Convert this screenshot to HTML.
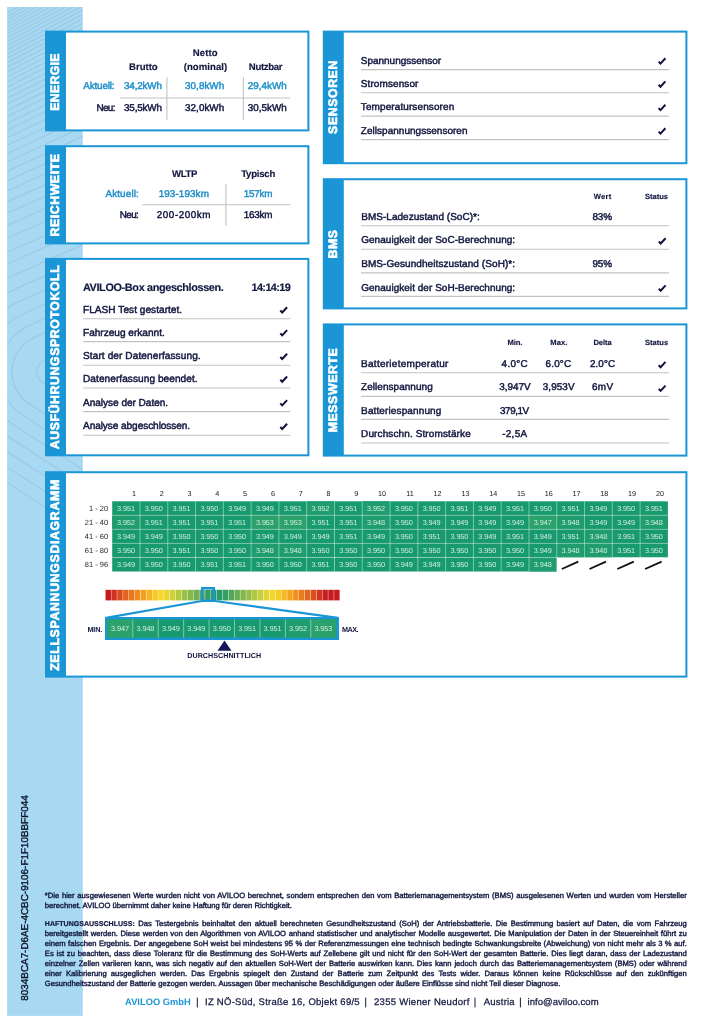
<!DOCTYPE html>
<html lang="de"><head><meta charset="utf-8"><title>AVILOO Batteriezertifikat</title>
<style>
html,body{margin:0;padding:0;background:#fff}
body{text-rendering:geometricPrecision;width:725px;height:1024px;position:relative;overflow:hidden;font-family:"Liberation Sans",sans-serif;color:#12173f}
#pg{position:absolute;left:0;top:0;width:725px;height:1024px;will-change:transform}
.r{position:absolute;display:block}
.t{position:absolute;white-space:nowrap;margin:0}
.rot{position:absolute;white-space:nowrap;color:#fff;font-weight:bold;-webkit-text-stroke:0.6px #fff;transform:translate(-50%,-50%) rotate(-90deg);transform-origin:50% 50%}
.f{position:absolute;left:44.8px;width:642px;font-size:7.65px;line-height:7.65px;color:#12173f;white-space:nowrap;-webkit-text-stroke:0.38px #12173f}
.f.j{white-space:normal;text-align:justify;text-align-last:justify}
.f b{font-weight:bold;-webkit-text-stroke:0.2px;font-size:7.05px}
</style></head>
<body>
<div id="pg">
<svg class="r" style="left:0;top:0" width="90" height="1024" viewBox="0 0 90 1024"><defs><clipPath id="sc"><rect x="7.15" y="7" width="75.6" height="1008.9"/></clipPath></defs><rect x="7.15" y="7" width="75.6" height="1008.9" fill="#a8d9f3"/><g clip-path="url(#sc)" fill="none" stroke="#7a94b8" stroke-opacity="0.21" stroke-width="1.3"><path d="M7 13.0 L84 -29.1"/><path d="M7 16.4 L84 -25.6"/><path d="M7 19.8 L84 -22.0"/><path d="M7 23.3 L84 -18.3"/><path d="M7 26.9 L84 -14.6"/><path d="M7 30.5 L84 -10.8"/><path d="M7 34.2 L84 -7.0"/><path d="M7 38.0 L84 -3.0"/><path d="M7 41.9 L84 1.0"/><path d="M7 45.8 L84 5.1"/><path d="M7 49.9 L84 9.4"/><path d="M7 54.1 L84 13.7"/><path d="M7 58.4 L84 18.2"/><path d="M7 62.8 L84 22.8"/><path d="M7 67.3 L84 27.6"/><path d="M7 72.1 L84 32.5"/><path d="M7 76.9 L84 37.6"/><path d="M7 82.0 L84 42.8"/><path d="M7 87.2 L84 48.3"/><path d="M7 92.6 L84 53.9"/><path d="M7 98.3 L84 59.8"/><path d="M7 104.2 L84 65.9"/><path d="M7 110.3 L84 72.3"/><path d="M7 116.7 L84 79.0"/><path d="M7 123.4 L84 86.0"/><path d="M7 130.4 L84 93.3"/><path d="M7 137.8 L84 101.0"/><path d="M7 145.5 L84 109.0"/><path d="M7 153.6 L84 117.5"/><path d="M7 162.2 L84 126.4"/><path d="M7 171.3 L84 135.8"/><path d="M7 180.9 L84 145.8"/><path d="M7 191.0 L84 156.4"/><path d="M7 201.8 L84 167.5"/><path d="M7 213.2 L84 179.0"/><path d="M7 225.5 L84 191.2"/><path d="M7 238.5 L84 204.2"/><path d="M7 252.5 L84 218.2"/><path d="M84 342.6 L44.7 360.1 A13 13 0 0 0 42.9 382.9 L84 409.6"/><path d="M84 315.3 L34.5 337.3 A38 38 0 0 0 29.3 403.9 L84 439.4"/><path d="M84 301.0 L29.3 325.4 A51 51 0 0 0 22.2 414.8 L84 454.9"/><path d="M84 286.8 L24.0 313.5 A64 64 0 0 0 15.1 425.7 L84 470.4"/><path d="M84 272.6 L18.7 301.7 A77 77 0 0 0 8.1 436.6 L84 485.9"/><path d="M84 258.3 L13.4 289.8 A90 90 0 0 0 1.0 447.5 L84 501.4"/><path d="M84 244.1 L8.1 277.9 A103 103 0 0 0 -6.1 458.4 L84 516.9"/><path d="M84 229.9 L2.8 266.0 A116 116 0 0 0 -13.2 469.3 L84 532.4"/></g></svg>
<div class="rot" style="left:26.0px;top:897.6px;font-size:9.9px;line-height:9.9px;color:#10142e;font-weight:normal;-webkit-text-stroke:0.4px #10142e">8034BCA7-D6AE-4CBC-9106-F1F10BBFF044</div>
<svg class="r" style="left:44px;top:29px" width="267" height="104" viewBox="44 29 267 104"><rect x="45.00" y="30.60" width="264.40" height="100.80" fill="#1a96d7"/><rect x="66.00" y="32.60" width="241.40" height="96.80" fill="#fff"/></svg>
<div class="rot" style="left:54.60px;top:81.85px;font-size:12.3px;line-height:12.3px;letter-spacing:0.3px">ENERGIE</div>
<div class="t " style="left:192.80px;top:49px;font-size:9.6px;line-height:9.6px;color:#12173f;font-weight:bold;letter-spacing:0.093px;-webkit-text-stroke:0.15px #12173f;">Netto</div>
<div class="t " style="left:183.70px;top:63px;font-size:9.6px;line-height:9.6px;color:#12173f;font-weight:bold;letter-spacing:0.051px;-webkit-text-stroke:0.15px #12173f;">(nominal)</div>
<div class="t " style="left:129.10px;top:63px;font-size:9.6px;line-height:9.6px;color:#12173f;font-weight:bold;letter-spacing:-0.038px;-webkit-text-stroke:0.15px #12173f;">Brutto</div>
<div class="t " style="left:248.80px;top:63px;font-size:9.6px;line-height:9.6px;color:#12173f;font-weight:bold;letter-spacing:-0.322px;-webkit-text-stroke:0.15px #12173f;">Nutzbar</div>
<div class="t " style="left:83.20px;top:82px;font-size:9.9px;line-height:9.9px;color:#2090c8;letter-spacing:-0.138px;-webkit-text-stroke:0.45px #2090c8;">Aktuell:</div>
<div class="t " style="left:124.00px;top:82px;font-size:9.9px;line-height:9.9px;color:#2090c8;letter-spacing:-0.161px;-webkit-text-stroke:0.45px #2090c8;">34,2kWh</div>
<div class="t " style="left:185.10px;top:82px;font-size:9.9px;line-height:9.9px;color:#2090c8;letter-spacing:0.022px;-webkit-text-stroke:0.45px #2090c8;">30,8kWh</div>
<div class="t " style="left:247.80px;top:82px;font-size:9.9px;line-height:9.9px;color:#2090c8;letter-spacing:0.006px;-webkit-text-stroke:0.45px #2090c8;">29,4kWh</div>
<div class="t " style="left:96.39px;top:104px;font-size:9.9px;line-height:9.9px;color:#12173f;letter-spacing:-0.600px;-webkit-text-stroke:0.45px #12173f;">Neu:</div>
<div class="t " style="left:124.00px;top:104px;font-size:9.9px;line-height:9.9px;color:#12173f;letter-spacing:-0.161px;-webkit-text-stroke:0.45px #12173f;">35,5kWh</div>
<div class="t " style="left:185.10px;top:104px;font-size:9.9px;line-height:9.9px;color:#12173f;letter-spacing:0.022px;-webkit-text-stroke:0.45px #12173f;">32,0kWh</div>
<div class="t " style="left:247.80px;top:104px;font-size:9.9px;line-height:9.9px;color:#12173f;letter-spacing:0.006px;-webkit-text-stroke:0.45px #12173f;">30,5kWh</div>
<svg class="r" style="left:44px;top:144px" width="267" height="102" viewBox="44 144 267 102"><rect x="45.00" y="145.20" width="264.40" height="99.20" fill="#1a96d7"/><rect x="66.00" y="147.20" width="241.40" height="95.20" fill="#fff"/></svg>
<div class="rot" style="left:54.60px;top:194.80px;font-size:12.3px;line-height:12.3px;letter-spacing:0.6px">REICHWEITE</div>
<div class="t " style="left:172.00px;top:170px;font-size:9.6px;line-height:9.6px;color:#12173f;font-weight:bold;letter-spacing:-0.326px;-webkit-text-stroke:0.15px #12173f;">WLTP</div>
<div class="t " style="left:241.20px;top:170px;font-size:9.6px;line-height:9.6px;color:#12173f;font-weight:bold;letter-spacing:-0.243px;-webkit-text-stroke:0.15px #12173f;">Typisch</div>
<div class="t " style="left:105.40px;top:190px;font-size:9.9px;line-height:9.9px;color:#2090c8;letter-spacing:0.148px;-webkit-text-stroke:0.45px #2090c8;">Aktuell:</div>
<div class="t " style="left:158.70px;top:190px;font-size:9.9px;line-height:9.9px;color:#2090c8;letter-spacing:0.097px;-webkit-text-stroke:0.45px #2090c8;">193-193km</div>
<div class="t " style="left:243.80px;top:190px;font-size:9.9px;line-height:9.9px;color:#2090c8;letter-spacing:-0.228px;-webkit-text-stroke:0.45px #2090c8;">157km</div>
<div class="t " style="left:119.70px;top:211px;font-size:9.9px;line-height:9.9px;color:#12173f;letter-spacing:-0.570px;-webkit-text-stroke:0.45px #12173f;">Neu:</div>
<div class="t " style="left:156.80px;top:211px;font-size:9.9px;line-height:9.9px;color:#12173f;letter-spacing:0.547px;-webkit-text-stroke:0.45px #12173f;">200-200km</div>
<div class="t " style="left:243.80px;top:211px;font-size:9.9px;line-height:9.9px;color:#12173f;letter-spacing:-0.228px;-webkit-text-stroke:0.45px #12173f;">163km</div>
<svg class="r" style="left:44px;top:256px" width="267" height="202" viewBox="44 256 267 202"><rect x="45.00" y="257.90" width="264.40" height="198.40" fill="#1a96d7"/><rect x="66.00" y="259.90" width="241.40" height="194.40" fill="#fff"/></svg>
<div class="rot" style="left:54.60px;top:357.10px;font-size:12.3px;line-height:12.3px;letter-spacing:0.6px">AUSFÜHRUNGSPROTOKOLL</div>
<div class="t " style="left:82.90px;top:283px;font-size:10.9px;line-height:10.9px;color:#12173f;font-weight:bold;letter-spacing:-0.371px;-webkit-text-stroke:0.15px #12173f;">AVILOO-Box angeschlossen.</div>
<div class="t " style="left:251.44px;top:283px;font-size:10.9px;line-height:10.9px;color:#12173f;font-weight:bold;letter-spacing:-0.600px;-webkit-text-stroke:0.15px #12173f;">14:14:19</div>
<div class="t " style="left:83.00px;top:306px;font-size:10.1px;line-height:10.1px;color:#12173f;letter-spacing:0.030px;-webkit-text-stroke:0.45px #12173f;">FLASH Test gestartet.</div>
<div class="t " style="left:83.00px;top:329px;font-size:10.1px;line-height:10.1px;color:#12173f;letter-spacing:-0.010px;-webkit-text-stroke:0.45px #12173f;">Fahrzeug erkannt.</div>
<div class="t " style="left:83.00px;top:352px;font-size:10.1px;line-height:10.1px;color:#12173f;letter-spacing:0.086px;-webkit-text-stroke:0.45px #12173f;">Start der Datenerfassung.</div>
<div class="t " style="left:83.00px;top:375px;font-size:10.1px;line-height:10.1px;color:#12173f;letter-spacing:0.058px;-webkit-text-stroke:0.45px #12173f;">Datenerfassung beendet.</div>
<div class="t " style="left:83.00px;top:399px;font-size:10.1px;line-height:10.1px;color:#12173f;letter-spacing:-0.041px;-webkit-text-stroke:0.45px #12173f;">Analyse der Daten.</div>
<div class="t " style="left:83.00px;top:422px;font-size:10.1px;line-height:10.1px;color:#12173f;letter-spacing:-0.082px;-webkit-text-stroke:0.45px #12173f;">Analyse abgeschlossen.</div>
<svg class="r" style="left:321px;top:29px" width="368" height="137" viewBox="321 29 368 137"><rect x="322.80" y="30.60" width="364.60" height="133.60" fill="#1a96d7"/><rect x="343.80" y="32.60" width="341.60" height="129.60" fill="#fff"/></svg>
<div class="rot" style="left:333.10px;top:97.40px;font-size:12.3px;line-height:12.3px;letter-spacing:0.6px">SENSOREN</div>
<div class="t " style="left:360.80px;top:57px;font-size:10.0px;line-height:10.0px;color:#12173f;letter-spacing:-0.022px;-webkit-text-stroke:0.45px #12173f;">Spannungssensor</div>
<div class="t " style="left:360.80px;top:80px;font-size:10.0px;line-height:10.0px;color:#12173f;letter-spacing:0.092px;-webkit-text-stroke:0.45px #12173f;">Stromsensor</div>
<div class="t " style="left:360.80px;top:103px;font-size:10.0px;line-height:10.0px;color:#12173f;letter-spacing:0.100px;-webkit-text-stroke:0.45px #12173f;">Temperatursensoren</div>
<div class="t " style="left:360.80px;top:127px;font-size:10.0px;line-height:10.0px;color:#12173f;letter-spacing:0.026px;-webkit-text-stroke:0.45px #12173f;">Zellspannungssensoren</div>
<svg class="r" style="left:321px;top:177px" width="368" height="134" viewBox="321 177 368 134"><rect x="322.80" y="178.20" width="364.60" height="131.20" fill="#1a96d7"/><rect x="343.80" y="180.20" width="341.60" height="127.20" fill="#fff"/></svg>
<div class="rot" style="left:333.10px;top:243.80px;font-size:12.3px;line-height:12.3px;letter-spacing:0.6px">BMS</div>
<div class="t " style="left:593.80px;top:193px;font-size:7.6px;line-height:7.6px;color:#12173f;font-weight:bold;letter-spacing:0.216px;-webkit-text-stroke:0.15px #12173f;">Wert</div>
<div class="t " style="left:645.00px;top:193px;font-size:7.6px;line-height:7.6px;color:#12173f;font-weight:bold;letter-spacing:-0.025px;-webkit-text-stroke:0.15px #12173f;">Status</div>
<div class="t " style="left:361.20px;top:213px;font-size:10.0px;line-height:10.0px;color:#12173f;letter-spacing:0.035px;-webkit-text-stroke:0.45px #12173f;">BMS-Ladezustand (SoC)*:</div>
<div class="t " style="left:592.40px;top:213px;font-size:9.9px;line-height:9.9px;color:#12173f;letter-spacing:-0.057px;-webkit-text-stroke:0.45px #12173f;">83%</div>
<div class="t " style="left:361.20px;top:236px;font-size:10.0px;line-height:10.0px;color:#12173f;letter-spacing:0.035px;-webkit-text-stroke:0.45px #12173f;">Genauigkeit der SoC-Berechnung:</div>
<div class="t " style="left:361.20px;top:260px;font-size:10.0px;line-height:10.0px;color:#12173f;letter-spacing:0.075px;-webkit-text-stroke:0.45px #12173f;">BMS-Gesundheitszustand (SoH)*:</div>
<div class="t " style="left:592.40px;top:260px;font-size:9.9px;line-height:9.9px;color:#12173f;letter-spacing:-0.057px;-webkit-text-stroke:0.45px #12173f;">95%</div>
<div class="t " style="left:361.20px;top:284px;font-size:10.0px;line-height:10.0px;color:#12173f;letter-spacing:0.035px;-webkit-text-stroke:0.45px #12173f;">Genauigkeit der SoH-Berechnung:</div>
<svg class="r" style="left:321px;top:322px" width="368" height="136" viewBox="321 322 368 136"><rect x="322.80" y="323.40" width="364.60" height="133.20" fill="#1a96d7"/><rect x="343.80" y="325.40" width="341.60" height="129.20" fill="#fff"/></svg>
<div class="rot" style="left:333.10px;top:390.00px;font-size:12.3px;line-height:12.3px;letter-spacing:0.6px">MESSWERTE</div>
<div class="t " style="left:507.40px;top:339px;font-size:7.6px;line-height:7.6px;color:#12173f;font-weight:bold;letter-spacing:-0.065px;-webkit-text-stroke:0.15px #12173f;">Min.</div>
<div class="t " style="left:550.30px;top:339px;font-size:7.6px;line-height:7.6px;color:#12173f;font-weight:bold;letter-spacing:0.035px;-webkit-text-stroke:0.15px #12173f;">Max.</div>
<div class="t " style="left:593.40px;top:339px;font-size:7.6px;line-height:7.6px;color:#12173f;font-weight:bold;letter-spacing:-0.071px;-webkit-text-stroke:0.15px #12173f;">Delta</div>
<div class="t " style="left:645.00px;top:339px;font-size:7.6px;line-height:7.6px;color:#12173f;font-weight:bold;letter-spacing:-0.005px;-webkit-text-stroke:0.15px #12173f;">Status</div>
<div class="t " style="left:361.10px;top:360px;font-size:10.0px;line-height:10.0px;color:#12173f;letter-spacing:0.264px;-webkit-text-stroke:0.45px #12173f;">Batterietemperatur</div>
<div class="t " style="left:501.60px;top:360px;font-size:9.9px;line-height:9.9px;color:#12173f;letter-spacing:0.308px;-webkit-text-stroke:0.45px #12173f;">4.0°C</div>
<div class="t " style="left:545.60px;top:360px;font-size:9.9px;line-height:9.9px;color:#12173f;letter-spacing:0.158px;-webkit-text-stroke:0.45px #12173f;">6.0°C</div>
<div class="t " style="left:590.00px;top:360px;font-size:9.9px;line-height:9.9px;color:#12173f;letter-spacing:0.058px;-webkit-text-stroke:0.45px #12173f;">2.0°C</div>
<div class="t " style="left:361.10px;top:383px;font-size:10.0px;line-height:10.0px;color:#12173f;letter-spacing:0.034px;-webkit-text-stroke:0.45px #12173f;">Zellenspannung</div>
<div class="t " style="left:499.30px;top:383px;font-size:9.9px;line-height:9.9px;color:#12173f;letter-spacing:-0.015px;-webkit-text-stroke:0.45px #12173f;">3,947V</div>
<div class="t " style="left:542.70px;top:383px;font-size:9.9px;line-height:9.9px;color:#12173f;letter-spacing:0.105px;-webkit-text-stroke:0.45px #12173f;">3,953V</div>
<div class="t " style="left:592.00px;top:383px;font-size:9.9px;line-height:9.9px;color:#12173f;letter-spacing:0.372px;-webkit-text-stroke:0.45px #12173f;">6mV</div>
<div class="t " style="left:361.10px;top:407px;font-size:10.0px;line-height:10.0px;color:#12173f;letter-spacing:0.121px;-webkit-text-stroke:0.45px #12173f;">Batteriespannung</div>
<div class="t " style="left:500.10px;top:407px;font-size:9.9px;line-height:9.9px;color:#12173f;letter-spacing:-0.475px;-webkit-text-stroke:0.45px #12173f;">379,1V</div>
<div class="t " style="left:361.10px;top:430px;font-size:10.0px;line-height:10.0px;color:#12173f;letter-spacing:0.112px;-webkit-text-stroke:0.45px #12173f;">Durchschn. Stromstärke</div>
<div class="t " style="left:502.20px;top:430px;font-size:9.9px;line-height:9.9px;color:#12173f;letter-spacing:0.310px;-webkit-text-stroke:0.45px #12173f;">-2,5A</div>
<svg class="r" style="left:44px;top:470px" width="645" height="209" viewBox="44 470 645 209"><rect x="45.00" y="471.20" width="642.40" height="206.40" fill="#1a96d7"/><rect x="66.00" y="473.20" width="619.40" height="202.40" fill="#fff"/></svg>
<div class="rot" style="left:54.60px;top:574.56px;font-size:12.3px;line-height:12.3px;letter-spacing:0.68px">ZELLSPANNUNGSDIAGRAMM</div>
<svg class="r" style="left:0;top:480px" width="725" height="100" viewBox="0 480 725 100" font-family="Liberation Sans, sans-serif"><rect x="112.20" y="501.30" width="555.70" height="56.16" fill="#189a6f"/><rect x="112.20" y="557.26" width="444.56" height="14.24" fill="#189a6f"/><rect x="306.69" y="501.30" width="27.78" height="14.04" fill="#1f9d6e"/><rect x="362.26" y="501.30" width="27.78" height="14.04" fill="#1f9d6e"/><rect x="112.20" y="515.34" width="27.78" height="14.04" fill="#1f9d6e"/><rect x="251.12" y="515.34" width="27.78" height="14.04" fill="#2ba16c"/><rect x="278.91" y="515.34" width="27.78" height="14.04" fill="#2ba16c"/><rect x="362.26" y="515.34" width="27.78" height="14.04" fill="#1f9d6e"/><rect x="528.98" y="515.34" width="27.78" height="14.04" fill="#2ba16c"/><rect x="556.76" y="515.34" width="27.78" height="14.04" fill="#1f9d6e"/><rect x="640.12" y="515.34" width="27.78" height="14.04" fill="#1f9d6e"/><rect x="584.54" y="529.38" width="27.78" height="14.04" fill="#1f9d6e"/><rect x="251.12" y="543.42" width="27.78" height="14.04" fill="#1f9d6e"/><rect x="278.91" y="543.42" width="27.78" height="14.04" fill="#1f9d6e"/><rect x="556.76" y="543.42" width="27.78" height="14.04" fill="#1f9d6e"/><rect x="584.54" y="543.42" width="27.78" height="14.04" fill="#1f9d6e"/><rect x="528.98" y="557.46" width="27.78" height="14.04" fill="#1f9d6e"/><g stroke="#fff" stroke-opacity="0.48" stroke-width="0.9"><path d="M139.99 501.30V571.50"/><path d="M167.77 501.30V571.50"/><path d="M195.56 501.30V571.50"/><path d="M223.34 501.30V571.50"/><path d="M251.12 501.30V571.50"/><path d="M278.91 501.30V571.50"/><path d="M306.69 501.30V571.50"/><path d="M334.48 501.30V571.50"/><path d="M362.26 501.30V571.50"/><path d="M390.05 501.30V571.50"/><path d="M417.83 501.30V571.50"/><path d="M445.62 501.30V571.50"/><path d="M473.40 501.30V571.50"/><path d="M501.19 501.30V571.50"/><path d="M528.98 501.30V571.50"/><path d="M556.76 501.30V571.50"/><path d="M584.54 501.30V557.46"/><path d="M612.33 501.30V557.46"/><path d="M640.12 501.30V557.46"/><path d="M112.20 515.34H667.90"/><path d="M112.20 529.38H667.90"/><path d="M112.20 543.42H667.90"/><path d="M112.20 557.46H667.90"/></g><g font-size="7.2" fill="#1a1a1a" text-anchor="end"><text x="135.99" y="495.9">1</text><text x="163.77" y="495.9">2</text><text x="191.56" y="495.9">3</text><text x="219.34" y="495.9">4</text><text x="247.12" y="495.9">5</text><text x="274.91" y="495.9">6</text><text x="302.69" y="495.9">7</text><text x="330.48" y="495.9">8</text><text x="358.26" y="495.9">9</text><text x="386.05" y="495.9">10</text><text x="413.83" y="495.9">11</text><text x="441.62" y="495.9">12</text><text x="469.40" y="495.9">13</text><text x="497.19" y="495.9">14</text><text x="524.98" y="495.9">15</text><text x="552.76" y="495.9">16</text><text x="580.54" y="495.9">17</text><text x="608.33" y="495.9">18</text><text x="636.12" y="495.9">19</text><text x="663.90" y="495.9">20</text></g><g font-size="7.5" fill="#1e1e1e" text-anchor="end"><text x="108.2" y="510.60">1 - 20</text><text x="108.2" y="524.64">21 - 40</text><text x="108.2" y="538.68">41 - 60</text><text x="108.2" y="552.72">61 - 80</text><text x="108.2" y="566.76">81 - 96</text></g><g font-size="7.3" fill="#fff" fill-opacity="0.8" text-anchor="middle" letter-spacing="-0.08"><text x="125.99" y="510.90">3.951</text><text x="153.78" y="510.90">3.950</text><text x="181.56" y="510.90">3.951</text><text x="209.35" y="510.90">3.950</text><text x="237.13" y="510.90">3.949</text><text x="264.92" y="510.90">3.949</text><text x="292.70" y="510.90">3.951</text><text x="320.49" y="510.90">3.952</text><text x="348.27" y="510.90">3.951</text><text x="376.06" y="510.90">3.952</text><text x="403.84" y="510.90">3.950</text><text x="431.63" y="510.90">3.950</text><text x="459.41" y="510.90">3.951</text><text x="487.20" y="510.90">3.949</text><text x="514.98" y="510.90">3.951</text><text x="542.77" y="510.90">3.950</text><text x="570.55" y="510.90">3.951</text><text x="598.34" y="510.90">3.949</text><text x="626.12" y="510.90">3.950</text><text x="653.91" y="510.90">3.951</text><text x="125.99" y="524.94">3.952</text><text x="153.78" y="524.94">3.951</text><text x="181.56" y="524.94">3.951</text><text x="209.35" y="524.94">3.951</text><text x="237.13" y="524.94">3.951</text><text x="264.92" y="524.94">3.953</text><text x="292.70" y="524.94">3.953</text><text x="320.49" y="524.94">3.951</text><text x="348.27" y="524.94">3.951</text><text x="376.06" y="524.94">3.948</text><text x="403.84" y="524.94">3.950</text><text x="431.63" y="524.94">3.949</text><text x="459.41" y="524.94">3.949</text><text x="487.20" y="524.94">3.949</text><text x="514.98" y="524.94">3.949</text><text x="542.77" y="524.94">3.947</text><text x="570.55" y="524.94">3.948</text><text x="598.34" y="524.94">3.949</text><text x="626.12" y="524.94">3.949</text><text x="653.91" y="524.94">3.948</text><text x="125.99" y="538.98">3.949</text><text x="153.78" y="538.98">3.949</text><text x="181.56" y="538.98">3.950</text><text x="209.35" y="538.98">3.950</text><text x="237.13" y="538.98">3.950</text><text x="264.92" y="538.98">3.949</text><text x="292.70" y="538.98">3.949</text><text x="320.49" y="538.98">3.949</text><text x="348.27" y="538.98">3.951</text><text x="376.06" y="538.98">3.949</text><text x="403.84" y="538.98">3.950</text><text x="431.63" y="538.98">3.951</text><text x="459.41" y="538.98">3.950</text><text x="487.20" y="538.98">3.949</text><text x="514.98" y="538.98">3.951</text><text x="542.77" y="538.98">3.949</text><text x="570.55" y="538.98">3.951</text><text x="598.34" y="538.98">3.948</text><text x="626.12" y="538.98">3.951</text><text x="653.91" y="538.98">3.950</text><text x="125.99" y="553.02">3.950</text><text x="153.78" y="553.02">3.950</text><text x="181.56" y="553.02">3.951</text><text x="209.35" y="553.02">3.950</text><text x="237.13" y="553.02">3.950</text><text x="264.92" y="553.02">3.948</text><text x="292.70" y="553.02">3.948</text><text x="320.49" y="553.02">3.950</text><text x="348.27" y="553.02">3.950</text><text x="376.06" y="553.02">3.950</text><text x="403.84" y="553.02">3.950</text><text x="431.63" y="553.02">3.950</text><text x="459.41" y="553.02">3.950</text><text x="487.20" y="553.02">3.950</text><text x="514.98" y="553.02">3.950</text><text x="542.77" y="553.02">3.949</text><text x="570.55" y="553.02">3.948</text><text x="598.34" y="553.02">3.948</text><text x="626.12" y="553.02">3.951</text><text x="653.91" y="553.02">3.950</text><text x="125.99" y="567.06">3.949</text><text x="153.78" y="567.06">3.950</text><text x="181.56" y="567.06">3.950</text><text x="209.35" y="567.06">3.951</text><text x="237.13" y="567.06">3.951</text><text x="264.92" y="567.06">3.950</text><text x="292.70" y="567.06">3.950</text><text x="320.49" y="567.06">3.951</text><text x="348.27" y="567.06">3.950</text><text x="376.06" y="567.06">3.950</text><text x="403.84" y="567.06">3.949</text><text x="431.63" y="567.06">3.949</text><text x="459.41" y="567.06">3.950</text><text x="487.20" y="567.06">3.950</text><text x="514.98" y="567.06">3.949</text><text x="542.77" y="567.06">3.948</text></g></svg>
<svg class="r" style="left:0;top:580px" width="725" height="30" viewBox="0 580 725 30"><rect x="105.50" y="589.8" width="5.46" height="10.6" fill="rgb(198,26,30)"/><rect x="111.36" y="589.8" width="5.46" height="10.6" fill="rgb(207,50,30)"/><rect x="117.22" y="589.8" width="5.46" height="10.6" fill="rgb(217,74,30)"/><rect x="123.09" y="589.8" width="5.46" height="10.6" fill="rgb(226,98,30)"/><rect x="128.95" y="589.8" width="5.46" height="10.6" fill="rgb(231,119,30)"/><rect x="134.81" y="589.8" width="5.46" height="10.6" fill="rgb(237,139,30)"/><rect x="140.68" y="589.8" width="5.46" height="10.6" fill="rgb(242,160,30)"/><rect x="146.54" y="589.8" width="5.46" height="10.6" fill="rgb(245,180,33)"/><rect x="152.40" y="589.8" width="5.46" height="10.6" fill="rgb(248,200,36)"/><rect x="158.26" y="589.8" width="5.46" height="10.6" fill="rgb(245,214,42)"/><rect x="164.12" y="589.8" width="5.46" height="10.6" fill="rgb(230,214,50)"/><rect x="169.99" y="589.8" width="5.46" height="10.6" fill="rgb(207,208,58)"/><rect x="175.85" y="589.8" width="5.46" height="10.6" fill="rgb(182,200,64)"/><rect x="181.71" y="589.8" width="5.46" height="10.6" fill="rgb(156,192,70)"/><rect x="187.57" y="589.8" width="5.46" height="10.6" fill="rgb(134,184,76)"/><rect x="193.44" y="589.8" width="5.46" height="10.6" fill="rgb(112,176,82)"/><rect x="199.30" y="589.8" width="5.46" height="10.6" fill="rgb(90,168,88)"/><rect x="205.16" y="589.8" width="5.46" height="10.6" fill="rgb(52,158,100)"/><rect x="211.02" y="589.8" width="5.46" height="10.6" fill="rgb(40,154,104)"/><rect x="216.89" y="589.8" width="5.46" height="10.6" fill="rgb(40,154,104)"/><rect x="222.75" y="589.8" width="5.46" height="10.6" fill="rgb(50,157,101)"/><rect x="228.61" y="589.8" width="5.46" height="10.6" fill="rgb(82,166,90)"/><rect x="234.47" y="589.8" width="5.46" height="10.6" fill="rgb(108,174,83)"/><rect x="240.34" y="589.8" width="5.46" height="10.6" fill="rgb(130,182,77)"/><rect x="246.20" y="589.8" width="5.46" height="10.6" fill="rgb(152,190,71)"/><rect x="252.06" y="589.8" width="5.46" height="10.6" fill="rgb(176,198,65)"/><rect x="257.92" y="589.8" width="5.46" height="10.6" fill="rgb(202,206,59)"/><rect x="263.79" y="589.8" width="5.46" height="10.6" fill="rgb(225,213,52)"/><rect x="269.65" y="589.8" width="5.46" height="10.6" fill="rgb(242,214,44)"/><rect x="275.51" y="589.8" width="5.46" height="10.6" fill="rgb(247,203,37)"/><rect x="281.38" y="589.8" width="5.46" height="10.6" fill="rgb(246,184,34)"/><rect x="287.24" y="589.8" width="5.46" height="10.6" fill="rgb(243,164,31)"/><rect x="293.10" y="589.8" width="5.46" height="10.6" fill="rgb(238,143,30)"/><rect x="298.96" y="589.8" width="5.46" height="10.6" fill="rgb(232,123,30)"/><rect x="304.82" y="589.8" width="5.46" height="10.6" fill="rgb(227,102,30)"/><rect x="310.69" y="589.8" width="5.46" height="10.6" fill="rgb(219,79,30)"/><rect x="316.55" y="589.8" width="5.46" height="10.6" fill="rgb(209,55,30)"/><rect x="322.41" y="589.8" width="5.46" height="10.6" fill="rgb(200,31,30)"/><rect x="328.27" y="589.8" width="5.46" height="10.6" fill="rgb(198,26,30)"/><rect x="334.14" y="589.8" width="5.46" height="10.6" fill="rgb(198,26,30)"/></svg>
<div class="r" style="left:201.0px;top:586.6px;width:14.4px;height:15.2px;box-shadow:inset 0 0 0 2.4px #1a96d7;"></div>
<svg class="r" style="left:0;top:0" width="725" height="700" viewBox="0 0 725 700"><g stroke="#111" stroke-width="1.9" fill="none"><path d="M561.8 569 L578.3 561.6"/><path d="M589.5 569 L606.0 561.6"/><path d="M617.3 569 L633.8 561.6"/><path d="M645.1 569 L661.6 561.6"/></g><g stroke="#1a96d7" stroke-width="2.2" fill="none"><path d="M201.8 601 L106 617.8"/><path d="M214.8 601 L338 617.8"/></g><path d="M224.5 640.4 L231.5 650.7 L217.5 650.7 Z" fill="#141955"/></svg>
<div class="r" style="left:105.00px;top:616.80px;width:233.60px;height:23.40px;background:#1a96d7;"></div>
<svg class="r" style="left:0;top:610px" width="725" height="40" viewBox="0 610 725 40" font-family="Liberation Sans, sans-serif"><rect x="107.40" y="619.4" width="228.80" height="18.2" fill="#189a6f"/><rect x="107.40" y="619.4" width="25.42" height="18.2" fill="#2ba16c"/><rect x="132.82" y="619.4" width="25.42" height="18.2" fill="#1f9d6e"/><rect x="285.36" y="619.4" width="25.42" height="18.2" fill="#1f9d6e"/><rect x="310.78" y="619.4" width="25.42" height="18.2" fill="#2ba16c"/><g stroke="#fff" stroke-opacity="0.5" stroke-width="0.9"><path d="M132.82 619.4V637.6"/><path d="M158.24 619.4V637.6"/><path d="M183.67 619.4V637.6"/><path d="M209.09 619.4V637.6"/><path d="M234.51 619.4V637.6"/><path d="M259.93 619.4V637.6"/><path d="M285.36 619.4V637.6"/><path d="M310.78 619.4V637.6"/></g><g font-size="7.3" fill="#fff" fill-opacity="0.8" text-anchor="middle" letter-spacing="-0.08"><text x="120.01" y="631.2">3.947</text><text x="145.43" y="631.2">3.948</text><text x="170.86" y="631.2">3.949</text><text x="196.28" y="631.2">3.949</text><text x="221.70" y="631.2">3.950</text><text x="247.12" y="631.2">3.951</text><text x="272.54" y="631.2">3.951</text><text x="297.97" y="631.2">3.952</text><text x="323.39" y="631.2">3.953</text></g></svg>
<div class="t " style="left:87.40px;top:626px;font-size:7.3px;line-height:7.3px;color:#12173f;font-weight:bold;letter-spacing:-0.170px;">MIN.</div>
<div class="t " style="left:342.12px;top:626px;font-size:7.3px;line-height:7.3px;color:#12173f;font-weight:bold;letter-spacing:-0.600px;">MAX.</div>
<div class="t " style="left:187.30px;top:652px;font-size:7.2px;line-height:7.2px;color:#12173f;font-weight:bold;">DURCHSCHNITTLICH</div>
<div class="f j" style="top:892px">*Die hier ausgewiesenen Werte wurden nicht von AVILOO berechnet, sondern entsprechen den vom Batteriemanagementsystem (BMS) ausgelesenen Werten und wurden vom Hersteller</div>
<div class="f nj" style="top:902px">berechnet. AVILOO übernimmt daher keine Haftung für deren Richtigkeit.</div>
<div class="f j" style="top:920px"><b>HAFTUNGSAUSSCHLUSS:</b> Das Testergebnis beinhaltet den aktuell berechneten Gesundheitszustand (SoH) der Antriebsbatterie. Die Bestimmung basiert auf Daten, die vom Fahrzeug</div>
<div class="f j" style="top:930px">bereitgestellt werden. Diese werden von den Algorithmen von AVILOO anhand statistischer und analytischer Modelle ausgewertet. Die Manipulation der Daten in der Steuereinheit führt zu</div>
<div class="f j" style="top:940px">einem falschen Ergebnis. Der angegebene SoH weist bei mindestens 95 % der Referenzmessungen eine technisch bedingte Schwankungsbreite (Abweichung) von nicht mehr als 3 % auf.</div>
<div class="f j" style="top:950px">Es ist zu beachten, dass diese Toleranz für die Bestimmung des SoH-Werts auf Zellebene gilt und nicht für den SoH-Wert der gesamten Batterie. Dies liegt daran, dass der Ladezustand</div>
<div class="f j" style="top:960px">einzelner Zellen variieren kann, was sich negativ auf den aktuellen SoH-Wert der Batterie auswirken kann. Dies kann jedoch durch das Batteriemanagementsystem (BMS) oder während</div>
<div class="f j" style="top:970px">einer Kalibrierung ausgeglichen werden. Das Ergebnis spiegelt den Zustand der Batterie zum Zeitpunkt des Tests wider. Daraus können keine Rückschlüsse auf den zukünftigen</div>
<div class="f nj" style="top:980px">Gesundheitszustand der Batterie gezogen werden. Aussagen über mechanische Beschädigungen oder äußere Einflüsse sind nicht Teil dieser Diagnose.</div>
<div class="t " style="left:125.10px;top:998px;font-size:9.3px;line-height:9.3px;color:#1a96d7;font-weight:bold;letter-spacing:0.026px;">AVILOO GmbH</div>
<div class="t " style="left:205.00px;top:998px;font-size:9.5px;line-height:9.5px;color:#12173f;letter-spacing:0.261px;-webkit-text-stroke:0.25px #12173f;">IZ NÖ-Süd, Straße 16, Objekt 69/5</div>
<div class="t " style="left:374.00px;top:998px;font-size:9.5px;line-height:9.5px;color:#12173f;letter-spacing:0.284px;-webkit-text-stroke:0.25px #12173f;">2355 Wiener Neudorf</div>
<div class="t " style="left:483.80px;top:998px;font-size:9.5px;line-height:9.5px;color:#12173f;letter-spacing:0.206px;-webkit-text-stroke:0.25px #12173f;">Austria</div>
<div class="t " style="left:527.50px;top:998px;font-size:9.5px;line-height:9.5px;color:#12173f;letter-spacing:0.052px;-webkit-text-stroke:0.25px #12173f;">info@aviloo.com</div>
<svg class="r" style="left:0;top:0" width="725" height="1024" viewBox="0 0 725 1024" fill="none"><path d="M120.10 98.00H290.20" stroke="#c2c2c2" stroke-width="1.1"/><path d="M166.90 77.20V119.70" stroke="#c2c2c2" stroke-width="1.1"/><path d="M243.40 77.20V119.70" stroke="#c2c2c2" stroke-width="1.1"/><path d="M142.20 204.80H290.20" stroke="#c2c2c2" stroke-width="1.1"/><path d="M225.90 184.10V225.70" stroke="#c2c2c2" stroke-width="1.1"/><path d="M83.20 318.70H290.20" stroke="#c2c2c2" stroke-width="1.1"/><path d="M280.30 310.50L282.20 312.50L287.10 307.20" stroke="#10123a" stroke-width="2"/><path d="M83.20 341.60H290.20" stroke="#c2c2c2" stroke-width="1.1"/><path d="M280.30 333.40L282.20 335.40L287.10 330.10" stroke="#10123a" stroke-width="2"/><path d="M83.20 365.20H290.20" stroke="#c2c2c2" stroke-width="1.1"/><path d="M280.30 357.00L282.20 359.00L287.10 353.70" stroke="#10123a" stroke-width="2"/><path d="M83.20 388.00H290.20" stroke="#c2c2c2" stroke-width="1.1"/><path d="M280.30 379.80L282.20 381.80L287.10 376.50" stroke="#10123a" stroke-width="2"/><path d="M83.20 411.60H290.20" stroke="#c2c2c2" stroke-width="1.1"/><path d="M280.30 403.40L282.20 405.40L287.10 400.10" stroke="#10123a" stroke-width="2"/><path d="M83.20 435.20H290.20" stroke="#c2c2c2" stroke-width="1.1"/><path d="M280.30 427.00L282.20 429.00L287.10 423.70" stroke="#10123a" stroke-width="2"/><path d="M361.00 69.60H669.00" stroke="#c2c2c2" stroke-width="1.1"/><path d="M658.60 61.60L660.50 63.60L665.40 58.30" stroke="#10123a" stroke-width="2"/><path d="M361.00 92.70H669.00" stroke="#c2c2c2" stroke-width="1.1"/><path d="M658.60 84.70L660.50 86.70L665.40 81.40" stroke="#10123a" stroke-width="2"/><path d="M361.00 116.10H669.00" stroke="#c2c2c2" stroke-width="1.1"/><path d="M658.60 108.10L660.50 110.10L665.40 104.80" stroke="#10123a" stroke-width="2"/><path d="M361.00 139.60H669.00" stroke="#c2c2c2" stroke-width="1.1"/><path d="M658.60 131.60L660.50 133.60L665.40 128.30" stroke="#10123a" stroke-width="2"/><path d="M361.00 225.70H669.00" stroke="#c2c2c2" stroke-width="1.1"/><path d="M658.80 241.50L660.70 243.50L665.60 238.20" stroke="#10123a" stroke-width="2"/><path d="M361.00 249.20H669.00" stroke="#c2c2c2" stroke-width="1.1"/><path d="M361.00 272.90H669.00" stroke="#c2c2c2" stroke-width="1.1"/><path d="M658.80 288.70L660.70 290.70L665.60 285.40" stroke="#10123a" stroke-width="2"/><path d="M361.00 296.40H669.00" stroke="#c2c2c2" stroke-width="1.1"/><path d="M658.70 365.20L660.60 367.20L665.50 361.90" stroke="#10123a" stroke-width="2"/><path d="M361.00 372.70H669.00" stroke="#c2c2c2" stroke-width="1.1"/><path d="M658.70 388.90L660.60 390.90L665.50 385.60" stroke="#10123a" stroke-width="2"/><path d="M361.00 396.40H669.00" stroke="#c2c2c2" stroke-width="1.1"/><path d="M361.00 419.40H669.00" stroke="#c2c2c2" stroke-width="1.1"/><path d="M361.00 443.00H669.00" stroke="#c2c2c2" stroke-width="1.1"/><path d="M197.30 997.60V1007.40" stroke="#12173f" stroke-width="1"/><path d="M365.70 997.60V1007.40" stroke="#12173f" stroke-width="1"/><path d="M475.00 997.60V1007.40" stroke="#12173f" stroke-width="1"/><path d="M520.40 997.60V1007.40" stroke="#12173f" stroke-width="1"/></svg>
</div>
</body></html>
